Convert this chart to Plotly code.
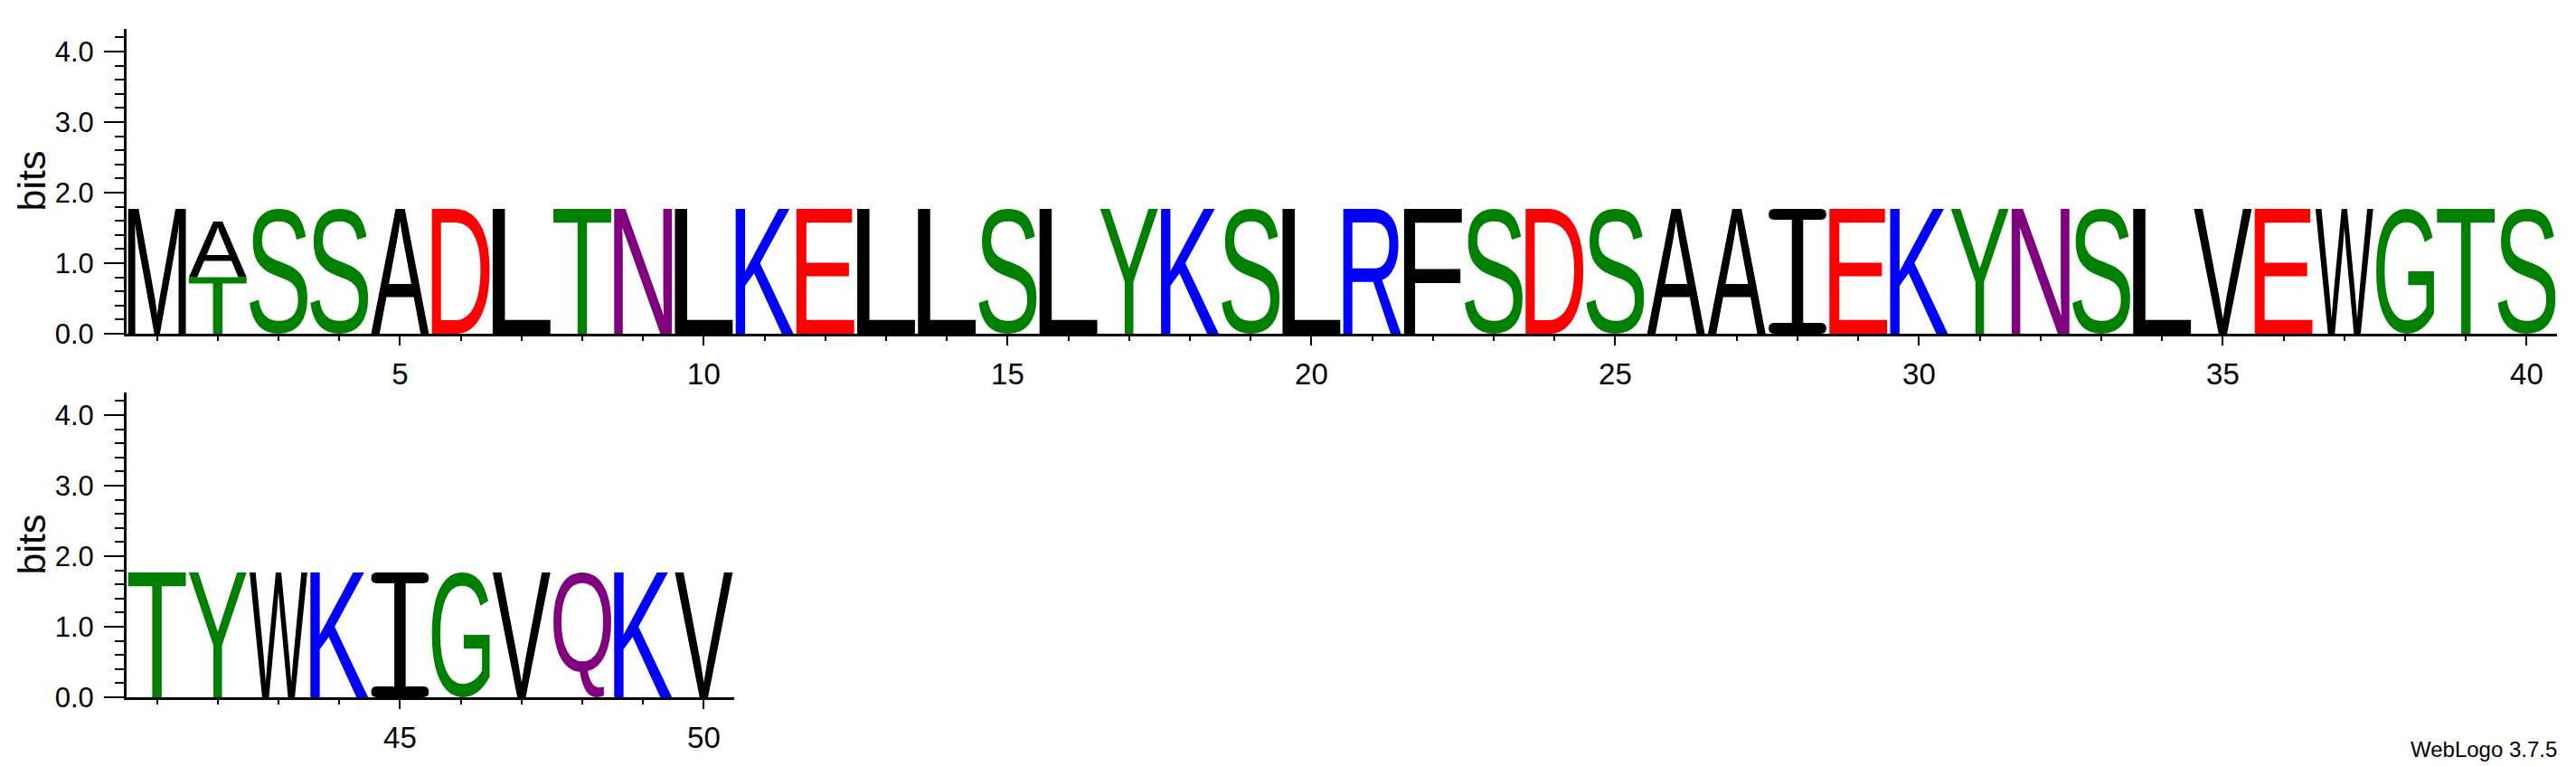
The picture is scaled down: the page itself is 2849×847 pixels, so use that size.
import glob
import os
import struct

import plotly.graph_objects as go

# ---------------- data ----------------
positions = list(range(1, 51))
main_letters = list("MASSADLTNLKELLSLYKSLRFSDSAAIEKYNSLVEWGTS" + "TYWKIGVQKV")
main_heights = [
    1.77, 0.79, 1.77, 1.77, 1.77, 1.77, 1.77, 1.77, 1.77, 1.77,
    1.77, 1.77, 1.77, 1.77, 1.77, 1.77, 1.77, 1.77, 1.77, 1.77,
    1.77, 1.77, 1.77, 1.77, 1.77, 1.77, 1.77, 1.77, 1.77, 1.77,
    1.77, 1.77, 1.77, 1.77, 1.77, 1.77, 1.77, 1.77, 1.77, 1.77,
    1.77, 1.77, 1.77, 1.77, 1.77, 1.77, 1.77, 1.77, 1.77, 1.77,
]
# letters stacked underneath the main letter
lower_positions = [2]
lower_letters = ["T"]
lower_heights = [0.80]

y_tick_values = [0, 1, 2, 3, 4]
per_row = 40
footer_text = "WebLogo 3.7.5"
y_title = "bits"

# chemistry colour scheme
colors = {}
for c in "GSTYC":
    colors[c] = "#008000"
for c in "QN":
    colors[c] = "#800080"
for c in "KRH":
    colors[c] = "#0000FF"
for c in "DE":
    colors[c] = "#FF0000"
for c in "AVLIPWFM":
    colors[c] = "#000000"

# Outline of the serifed "I" used by WebLogo (glyph design, units 0..1000)
I_GLYPH = [[
    (100, 1000, True), (900, 1000, True), (1000, 1000, False), (1000, 956, True),
    (1000, 913, False), (900, 913, True), (598, 913, True), (598, 87, True),
    (900, 87, True), (1000, 87, False), (1000, 43, True), (1000, 0, False),
    (900, 0, True), (100, 0, True), (0, 0, False), (0, 43, True), (0, 87, False),
    (100, 87, True), (402, 87, True), (402, 913, True), (100, 913, True),
    (0, 913, False), (0, 956, True), (0, 1000, False),
]]

# ---------------- font outline reader ----------------
def find_font(patterns):
    dirs = ["/usr/share/fonts", "/usr/local/share/fonts",
            os.path.expanduser("~/.local/share/fonts"), os.path.expanduser("~/.fonts")]
    for pat in patterns:
        for d in dirs:
            hits = glob.glob(os.path.join(d, "**", pat), recursive=True)
            if hits:
                return sorted(hits)[0]
    return None


class TTF:
    def __init__(self, path):
        d = open(path, "rb").read()
        off = 0
        if d[:4] == b"ttcf":
            off = struct.unpack(">I", d[12:16])[0]
        num = struct.unpack(">H", d[off + 4:off + 6])[0]
        self.t = {}
        for i in range(num):
            rec = off + 12 + 16 * i
            tag = d[rec:rec + 4].decode("latin1")
            _, o, l = struct.unpack(">III", d[rec + 4:rec + 16])
            self.t[tag] = (o, l)
        self.d = d
        head = self.t["head"][0]
        self.locfmt = struct.unpack(">h", d[head + 50:head + 52])[0]
        base = self.t["cmap"][0]
        n = struct.unpack(">H", d[base + 2:base + 4])[0]
        self.cm = None
        for i in range(n):
            pid, eid, o = struct.unpack(">HHI", d[base + 4 + 8 * i:base + 12 + 8 * i])
            fmt = struct.unpack(">H", d[base + o:base + o + 2])[0]
            if fmt == 4 and (pid == 0 or (pid == 3 and eid in (0, 1))):
                self.cm = base + o
                break

    def gid(self, ch):
        d, s, c = self.d, self.cm, ord(ch)
        segx2 = struct.unpack(">H", d[s + 6:s + 8])[0]
        seg = segx2 // 2
        ends = s + 14
        starts = ends + segx2 + 2
        deltas = starts + segx2
        ranges = deltas + segx2
        for i in range(seg):
            end = struct.unpack(">H", d[ends + 2 * i:ends + 2 * i + 2])[0]
            if end >= c:
                start = struct.unpack(">H", d[starts + 2 * i:starts + 2 * i + 2])[0]
                if start > c:
                    return 0
                delta = struct.unpack(">H", d[deltas + 2 * i:deltas + 2 * i + 2])[0]
                ro = struct.unpack(">H", d[ranges + 2 * i:ranges + 2 * i + 2])[0]
                if ro == 0:
                    return (c + delta) & 0xFFFF
                addr = ranges + 2 * i + ro + 2 * (c - start)
                g = struct.unpack(">H", d[addr:addr + 2])[0]
                return (g + delta) & 0xFFFF if g else 0
        return 0

    def contours(self, g, depth=0):
        d = self.d
        loca = self.t["loca"][0]
        glyf = self.t["glyf"][0]
        if self.locfmt == 0:
            o0, o1 = struct.unpack(">HH", d[loca + 2 * g:loca + 2 * g + 4])
            o0 *= 2
            o1 *= 2
        else:
            o0, o1 = struct.unpack(">II", d[loca + 4 * g:loca + 4 * g + 8])
        if o1 == o0:
            return []
        p = glyf + o0
        nc = struct.unpack(">h", d[p:p + 2])[0]
        p += 10
        if nc < 0:
            out = []
            while depth < 5:
                flags, gi = struct.unpack(">HH", d[p:p + 4])
                p += 4
                if flags & 1:
                    dx, dy = struct.unpack(">hh", d[p:p + 4])
                    p += 4
                else:
                    dx, dy = struct.unpack(">bb", d[p:p + 2])
                    p += 2
                if flags & 8:
                    p += 2
                elif flags & 0x40:
                    p += 4
                elif flags & 0x80:
                    p += 8
                for cnt in self.contours(gi, depth + 1):
                    out.append([(x + dx, y + dy, on) for (x, y, on) in cnt])
                if not flags & 0x20:
                    break
            return out
        ends = struct.unpack(">%dH" % nc, d[p:p + 2 * nc])
        p += 2 * nc
        il = struct.unpack(">H", d[p:p + 2])[0]
        p += 2 + il
        npts = ends[-1] + 1
        flags = []
        while len(flags) < npts:
            f = d[p]
            p += 1
            flags.append(f)
            if f & 8:
                r = d[p]
                p += 1
                flags.extend([f] * r)
        flags = flags[:npts]
        xs, v = [], 0
        for f in flags:
            if f & 2:
                dv = d[p]
                p += 1
                v += dv if f & 16 else -dv
            elif not f & 16:
                v += struct.unpack(">h", d[p:p + 2])[0]
                p += 2
            xs.append(v)
        ys, v = [], 0
        for f in flags:
            if f & 4:
                dv = d[p]
                p += 1
                v += dv if f & 32 else -dv
            elif not f & 32:
                v += struct.unpack(">h", d[p:p + 2])[0]
                p += 2
            ys.append(v)
        out, s = [], 0
        for e in ends:
            out.append([(xs[k], ys[k], bool(flags[k] & 1)) for k in range(s, e + 1)])
            s = e + 1
        return out


def glyph_path(contours, T):
    parts = []
    fmt = lambda q: "%.4f,%.4f" % T(q[0], q[1])
    for pts in contours:
        if len(pts) < 2:
            continue
        start = next((i for i, q in enumerate(pts) if q[2]), None)
        if start is None:
            mx = (pts[0][0] + pts[1][0]) / 2.0
            my = (pts[0][1] + pts[1][1]) / 2.0
            pts = [(mx, my, True)] + pts[1:] + [pts[0]]
            start = 0
        seq = pts[start:] + pts[:start]
        seq = seq + [seq[0]]
        cmds = ["M " + fmt(seq[0])]
        ctrl = None
        for q in seq[1:]:
            if q[2]:
                if ctrl is None:
                    cmds.append("L " + fmt(q))
                else:
                    cmds.append("Q " + fmt(ctrl) + " " + fmt(q))
                    ctrl = None
            else:
                if ctrl is None:
                    ctrl = q
                else:
                    mid = ((ctrl[0] + q[0]) / 2.0, (ctrl[1] + q[1]) / 2.0, True)
                    cmds.append("Q " + fmt(ctrl) + " " + fmt(mid))
                    ctrl = q
        cmds.append("Z")
        parts.append(" ".join(cmds))
    return " ".join(parts)


main_font_path = find_font(["LiberationSans-Regular.ttf", "Arial.ttf", "DejaVuSans.ttf"])

fonts = {}
try:
    if main_font_path:
        fonts["main"] = TTF(main_font_path)
except Exception:
    fonts = {}

glyph_cache = {"I": (I_GLYPH, (0, 0, 1000, 1000))}


def get_glyph(letter):
    if letter in glyph_cache:
        return glyph_cache[letter]
    res = None
    try:
        f = fonts.get("main")
        if f is not None:
            cnts = f.contours(f.gid(letter))
            allp = [q for c in cnts for q in c]
            if allp:
                bb = (min(q[0] for q in allp), min(q[1] for q in allp),
                      max(q[0] for q in allp), max(q[1] for q in allp))
                res = (cnts, bb)
    except Exception:
        res = None
    glyph_cache[letter] = res
    return res


# ---------------- figure ----------------
W, H = 2849, 847
pad = 0.025
fig = go.Figure()
shapes = []
annotations = []


def add_letter(letter, pos, y0, h, xref, yref):
    g = get_glyph(letter)
    color = colors.get(letter, "#000000")
    if g is None:
        annotations.append(dict(x=pos, y=y0 + h / 2, xref=xref, yref=yref, text=letter,
                                showarrow=False, font=dict(size=int(h * 70), color=color,
                                                           family="Liberation Sans")))
        return
    cnts, (gx0, gy0, gx1, gy1) = g
    left = pos - 0.5 + pad
    width = 1 - 2 * pad

    def T(u, v):
        return (left + (u - gx0) / float(gx1 - gx0) * width,
                y0 + (v - gy0) / float(gy1 - gy0) * h)

    shapes.append(dict(type="path", path=glyph_path(cnts, T), xref=xref, yref=yref,
                       fillcolor=color, line=dict(width=0), layer="above"))


for i, pos in enumerate(positions):
    row = (pos - 1) // per_row
    xref = "x" if row == 0 else "x2"
    yref = "y" if row == 0 else "y2"
    base = 0.0
    for lp, ll, lh in zip(lower_positions, lower_letters, lower_heights):
        if lp == pos:
            add_letter(ll, pos, base, lh, xref, yref)
            base += lh
    add_letter(main_letters[i], pos, base, main_heights[i], xref, yref)

# trace so the axes exist
fig.add_trace(go.Scatter(x=[positions[0]], y=[0], mode="markers", marker=dict(opacity=0),
                         hoverinfo="skip", showlegend=False, xaxis="x", yaxis="y"))
fig.add_trace(go.Scatter(x=[positions[per_row]], y=[0], mode="markers", marker=dict(opacity=0),
                         hoverinfo="skip", showlegend=False, xaxis="x2", yaxis="y2"))

tick_family = "Liberation Sans"
x_tick_size = 33
y_tick_size = 31
title_size = 43

x_left = 132.0
col_w = 67.2


def xaxis_cfg(x0, x1, lo, hi):
    return dict(domain=[x0 / W, x1 / W], range=[lo, hi], tickmode="linear", tick0=0, dtick=5,
                ticks="outside", ticklen=10, tickwidth=2, tickcolor="black",
                showline=True, linewidth=3, linecolor="black", mirror=False,
                showgrid=False, zeroline=False, fixedrange=True,
                tickfont=dict(family=tick_family, size=x_tick_size, color="black"),
                ticklabelstandoff=3,
                minor=dict(dtick=1, tick0=0, ticks="outside", ticklen=5, tickwidth=2,
                           tickcolor="black", showgrid=False),
                automargin=False)


def yaxis_cfg(ytop, ybot):
    return dict(domain=[1 - ybot / H, 1 - ytop / H], range=[0, 4.32], tickmode="array",
                tickvals=y_tick_values, ticktext=["%.1f" % v for v in y_tick_values],
                ticks="outside", ticklen=22, tickwidth=2, tickcolor="black",
                showline=True, linewidth=3, linecolor="black", showgrid=False, zeroline=False,
                fixedrange=True, tickfont=dict(family=tick_family, size=y_tick_size, color="black"),
                ticklabelstandoff=5,
                minor=dict(dtick=0.2, tick0=0, ticks="outside", ticklen=10, tickwidth=2,
                           tickcolor="black", showgrid=False),
                automargin=False)


n_top = per_row
n_bot = len(positions) - per_row
fig.update_layout(
    width=W, height=H, autosize=False,
    margin=dict(l=0, r=0, t=0, b=0, pad=0),
    paper_bgcolor="white", plot_bgcolor="white",
    showlegend=False,
    xaxis=dict(**xaxis_cfg(x_left, x_left + n_top * col_w, 0.5, n_top + 0.5), anchor="y"),
    yaxis=dict(**yaxis_cfg(24, 361), anchor="x"),
    xaxis2=dict(**xaxis_cfg(x_left, x_left + n_bot * col_w, n_top + 0.5, n_top + n_bot + 0.5),
                anchor="y2"),
    yaxis2=dict(**yaxis_cfg(426, 763), anchor="x2"),
    shapes=shapes,
)

for yc in (192.5, 594.5):
    annotations.append(dict(x=26 / W, y=1 - yc / H, xref="paper", yref="paper", text=y_title,
                            textangle=-90, showarrow=False, xanchor="center", yanchor="middle",
                            font=dict(family=tick_family, size=title_size, color="black")))
annotations.append(dict(x=2822 / W, y=1 - 836 / H, xref="paper", yref="paper", text=footer_text,
                        showarrow=False, xanchor="right", yanchor="bottom",
                        font=dict(family="Liberation Sans", size=24, color="black")))
fig.update_layout(annotations=annotations)

fig.write_html("out.html")
